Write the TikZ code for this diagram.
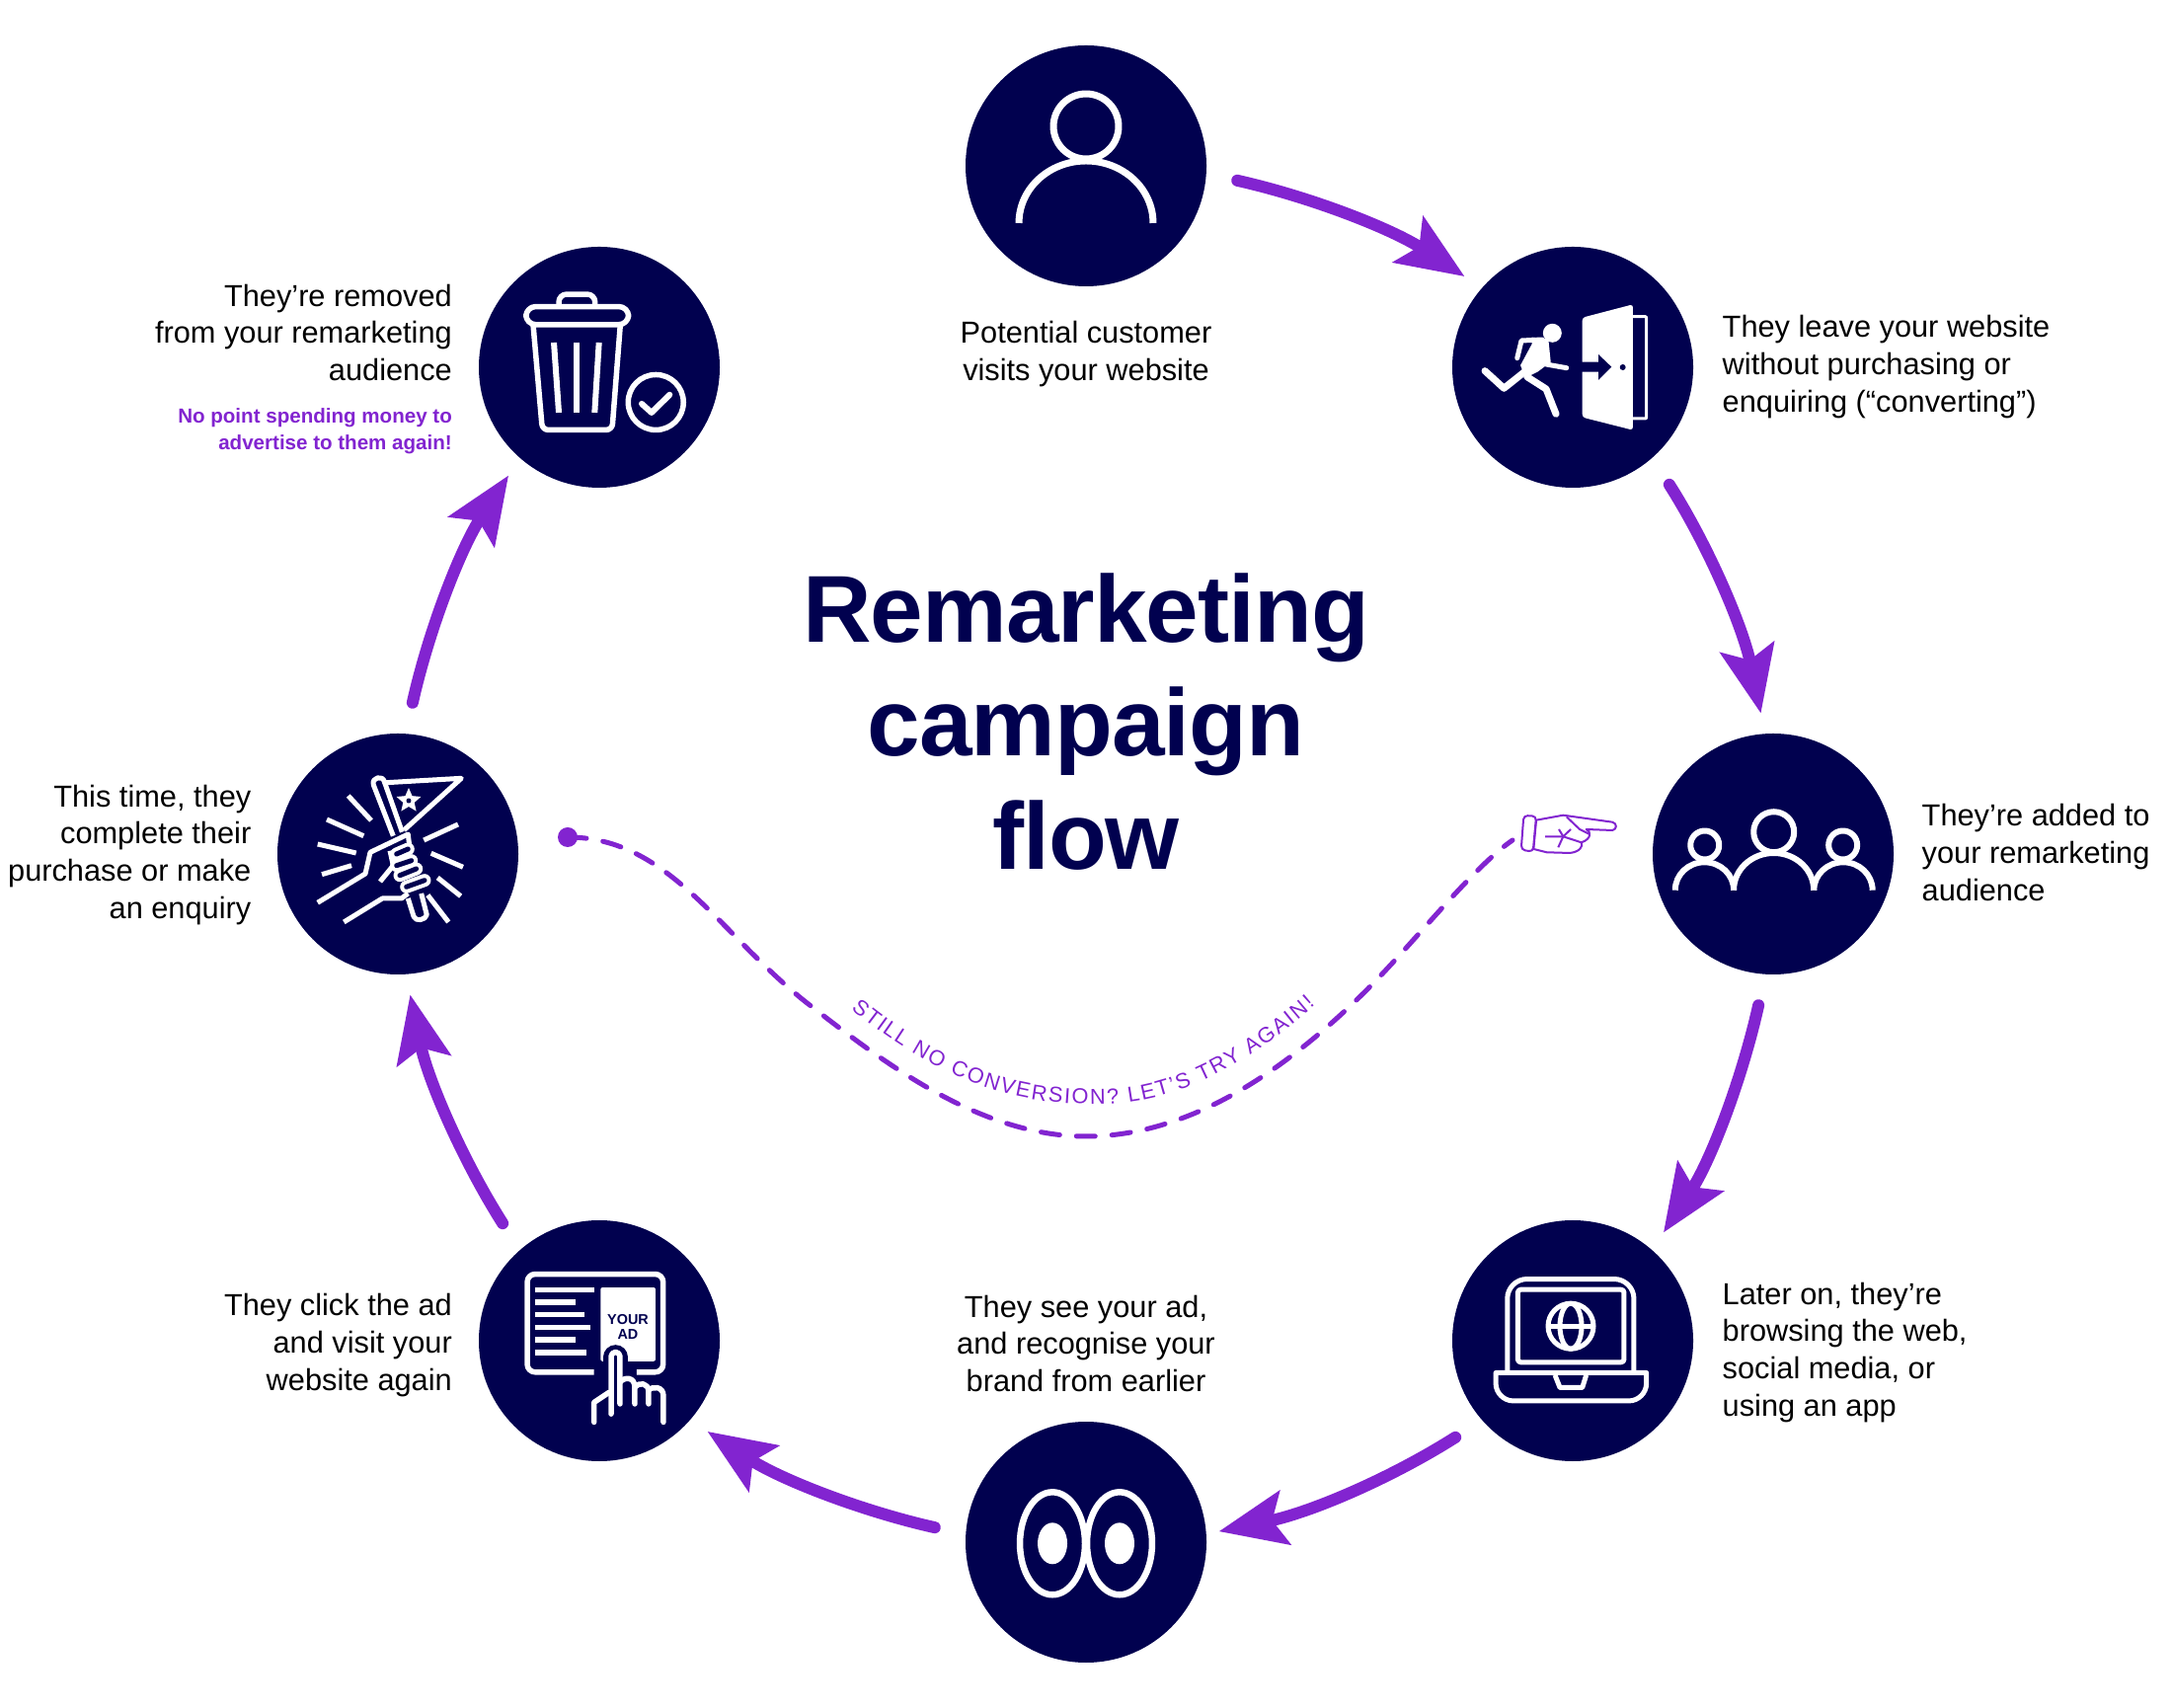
\documentclass[tikz,border=0pt]{standalone}
\usepackage{fontspec}
\setmainfont{Liberation Sans}
\newfontfamily\headfont[LetterSpace=-1]{Liberation Sans}
\usetikzlibrary{arrows.meta,decorations.text}
\definecolor{navy}{RGB}{1,1,79}
\definecolor{flowpurple}{RGB}{130,36,208}
\newcommand{\retryfont}{\fontsize{6.2}{7}\selectfont}
\tikzset{
    stage/.style={circle, fill=navy, minimum size=2.44cm, inner sep=0pt, outer sep=.21cm},
    lab/.style={font=\fontsize{8.75}{10.8}\selectfont, inner sep=0pt},
    note/.style={font=\fontsize{5.85}{7.7}\selectfont\bfseries, text=flowpurple, inner sep=0pt},
    head/.style={font=\fontsize{27.4}{32.7}\selectfont\bfseries\headfont, text=navy, align=center, inner sep=0pt},
    adlab/.style={font=\fontsize{4.1}{4.4}\selectfont\bfseries, text=navy, align=center, inner sep=0pt},
    flow/.style={draw=flowpurple, line width=.12cm, line cap=round, shorten <=.11cm, -{Stealth[length=.68cm,width=.55cm,inset=.13cm]}},
    retry/.style={draw=flowpurple, line width=.05cm, line cap=round, dash pattern=on .19cm off .17cm},
    icon/.style={draw=white, line width=.05cm, line join=round},
    outline/.style={draw=flowpurple, line width=.02cm, line join=round, fill=white}
}
\begin{document}
\begin{tikzpicture}[x=1cm,y=1cm]

\useasboundingbox (0,0) rectangle (22,17.29);

\node[stage] (visit) at (11,15.61) {};
\node[stage] (leave) at (15.93,13.57) {};
\node[stage] (added) at (17.96,8.64) {};
\node[stage] (browse) at (15.93,3.71) {};
\node[stage] (see) at (11,1.67) {};
\node[stage] (click) at (6.07,3.71) {};
\node[stage] (convert) at (4.03,8.64) {};
\node[stage] (removed) at (6.07,13.57) {};

\foreach \a/\b/\s [count=\i from 0] in {visit/leave/0cm,leave/added/0cm,added/browse/0cm,browse/see/-.08cm,see/click/0cm,click/convert/0cm,convert/removed/0cm} {
  \pgfmathsetmacro{\sa}{-5.6-45*\i}
  \pgfmathsetmacro{\ea}{140-45*\i}
  \pgfmathsetmacro{\oa}{-12.6-45*\i}
  \pgfmathsetmacro{\ia}{146.7-45*\i}
  \draw[flow,shorten >=\s] (\a.\sa) to[out=\oa,in=\ia,looseness=.86] (\b.\ea);
}

\node[lab,align=center] (visitlab) at (11,13.70) {Potential customer\\visits your website};
\node[lab,align=left,anchor=west] (leavelab) at (17.44,13.57) {They leave your website\\without purchasing or\\enquiring (“converting”)};
\node[lab,align=left,anchor=west] (addedlab) at (19.46,8.655) {They’re added to\\your remarketing\\audience};
\node[lab,align=left,anchor=west] (browselab) at (17.44,3.59) {Later on, they’re\\browsing the web,\\social media, or\\using an app};
\node[lab,align=center] (seelab) at (11,3.68) {They see your ad,\\and recognise your\\brand from earlier};
\node[lab,align=right,anchor=east] (clicklab) at (4.585,3.66) {They click the ad\\and visit your\\website again};
\node[lab,align=right,anchor=east] (convertlab) at (2.55,8.63) {This time, they\\complete their\\purchase or make\\an enquiry};
\node[lab,align=right,anchor=east] (removedlab) at (4.585,13.92) {They’re removed\\from your remarketing\\audience};
\node[note,align=right,anchor=east] (removednote) at (4.585,12.92) {No point spending money to\\advertise to them again!};

\node[head] (title) at (11,9.98) {Remarketing\\campaign\\flow};

\node[circle,fill=flowpurple,minimum size=.2cm,inner sep=0pt] (retrydot) at (5.75,8.81) {};
\coordinate (handend) at (15.32,8.78);
\draw[retry] (retrydot.center) .. controls (6.80,8.81) and (7.30,7.79) .. (8.24,7.08)
  .. controls (9.00,6.49) and (9.95,5.78) .. (11.00,5.78)
  .. controls (12.05,5.78) and (13.00,6.44) .. (13.79,7.21)
  .. controls (14.30,7.71) and (14.90,8.49) .. (handend);
\path[decorate,decoration={text along path,text align={fit to path},
  text={|\retryfont\color{flowpurple}|STILL NO CONVERSION? LET’S TRY AGAIN!}}]
  (8.62,7.07) .. controls (9.57,6.29) and (10.37,6.08) .. (11.22,6.11)
  .. controls (11.97,6.14) and (12.67,6.54) .. (13.32,7.11);

\coordinate (hand) at (15.88,8.84);
\begin{scope}[shift={(hand)},scale=.01]
  \draw[outline] (-32,14.3) -- (-4.7,19.3) -- (45.3,12.3) .. controls (50,11) and (50,5) .. (45.3,4) -- (18.7,5)
    .. controls (24,3) and (24,-5) .. (13.7,-8.3) .. controls (16,-12) and (12,-18) .. (2,-19) -- (-21.3,-18.3) -- (-34.7,-15) -- cycle;
  \draw[outline,rounded corners=.04cm] (-44.7,19) -- (-32,18.3) -- (-35.3,-17.7) -- (-47.3,-15.7) -- cycle;
  \draw[outline] (-1.3,17.7) -- (12,5) -- (22,0);
  \draw[outline] (-23,-2.3) -- (-4.7,-2.3) -- (13.7,-8.3);
  \draw[outline] (-9,5) -- (-4.7,-2.3) -- (3,5);
  \draw[outline] (-9.7,-13.3) -- (-4.7,-2.3);
\end{scope}

\begin{scope}[shift={(visit)},scale=.01]
  \draw[icon,line width=.07cm] (0,40) circle (33);
  \draw[icon,line width=.07cm] (-68,-58) arc[start angle=180,end angle=0,x radius=68,y radius=63];
\end{scope}

\begin{scope}[shift={(leave)},scale=.01]
  \fill[white,rounded corners=.03cm] (9.7,50.3) -- (61,63.7) -- (61,-63.7) -- (9.7,-50.7) -- cycle;
  \draw[icon,line width=.03cm,rounded corners=.01cm] (61,51.3) -- (74.7,51.3) -- (74.7,-52) -- (61,-52);
  \fill[navy] (9,5.3) -- (26,5.3) -- (26,13) -- (39.3,0.3) -- (26,-13) -- (26,-4.7) -- (9,-4.7) -- cycle;
  \fill[navy] (50.7,0) circle (3);
  \fill[white] (-20.7,34.7) circle (9.5);
  \fill[white] (-41.3,30.3) -- (-24.7,28.7) -- (-22.3,5.3) -- (-35.7,-4.7) -- (-48,-10.7) -- (-53,2) -- (-41.3,23.7) -- cycle;
  \draw[icon,line cap=round] (-56.3,9.3) -- (-52,27) -- (-31,28);
  \draw[icon,line width=.07cm,line cap=round] (-89,-3.7) -- (-69.7,-21.3) -- (-48,-4);
  \draw[icon,line width=.07cm,line cap=round] (-46.3,-9.7) -- (-27,-22) -- (-17,-47.3);
  \draw[icon,line cap=round] (-27,3) -- (-6.3,-0.7);
\end{scope}

\begin{scope}[shift={(added)},scale=.01]
  \draw[icon,line width=.06cm] (0.7,22.3) circle (20.5);
  \draw[icon,line width=.06cm] (-69.3,9) circle (14.5);
  \draw[icon,line width=.06cm] (70.7,9) circle (14.5);
  \draw[icon,line width=.06cm] (-40,-36.7) arc[start angle=180,end angle=0,x radius=40.6,y radius=37.7];
  \draw[icon,line width=.06cm] (-99.3,-36.7) arc[start angle=180,end angle=0,x radius=29.7,y radius=28.4];
  \draw[icon,line width=.06cm] (41.3,-36.7) arc[start angle=180,end angle=0,x radius=29.7,y radius=28.4];
\end{scope}

\begin{scope}[shift={(browse)},scale=.01]
  \draw[icon,rounded corners=.2cm] (-66.3,-30.8) -- (-66.3,62.5) -- (62,62.5) -- (62,-30.8);
  \draw[icon,rounded corners=.03cm] (-55.7,51.8) rectangle (52,-21.8);
  \draw[icon] (-78,-32.5) -- (74.7,-32.5) -- (74.7,-43) arc[start angle=0,end angle=-90,radius=18] -- (-60,-61) arc[start angle=270,end angle=180,radius=18] -- cycle;
  \draw[icon] (-18,-34.8) -- (-13,-47.5) -- (9.7,-47.5) -- (13.7,-34.8);
  \draw[icon] (-2,14.8) circle (23);
  \draw[icon] (-2,14.8) ellipse (11 and 23);
  \draw[icon] (-25,14.8) -- (21,14.8);
\end{scope}

\begin{scope}[shift={(see)},scale=.01]
  \draw[icon,line width=.065cm] (-34,-1.3) ellipse (33 and 52);
  \draw[icon,line width=.065cm] (34,-1.3) ellipse (33 and 52);
  \fill[white] (-34,-1.3) ellipse (15 and 21);
  \fill[white] (34,-1.3) ellipse (15 and 21);
\end{scope}

\begin{scope}[shift={(click)},scale=.01]
  \draw[icon,line width=.055cm,rounded corners=.08cm] (-5.3,-31.8) -- (-73,-31.8) -- (-73,67.5) -- (64.7,67.5) -- (64.7,-31.8) -- (38,-31.8);
  \foreach \ly/\lx in {51.5/-5.3,38.8/-23.7,26.5/-15,13.5/-9.3,0.8/-23.7,-11.8/-12.7}
    \draw[icon,line width=.055cm] (-65.3,\ly) -- (\lx,\ly);
  \fill[white,rounded corners=.02cm] (1.3,54) rectangle (57,-20.8);
  \node[adlab] (adtext) at (29,14) {YOUR\\AD};
  \draw[navy,line width=.25cm,line cap=round] (16.5,-30) -- (16.5,-16.7);
  \draw[icon,line width=.055cm,line cap=round] (12,-74.2) -- (12,-16) arc[start angle=180,end angle=0,radius=4.5] -- (21,-64);
  \draw[icon,line width=.055cm,line cap=round] (21,-42) .. controls (26,-36) and (36,-37) .. (36,-47) -- (36,-64);
  \draw[icon,line width=.055cm,line cap=round] (36,-47) .. controls (40,-42) and (50,-42) .. (50,-52) -- (50,-64);
  \draw[icon,line width=.055cm,line cap=round] (50,-50) .. controls (54,-46) and (65,-46) .. (65,-56) -- (65,-82.5);
  \draw[icon,line width=.055cm,line cap=round] (9.7,-52.5) -- (-5.3,-62.5) -- (-5.3,-82.5);
\end{scope}

\begin{scope}[shift={(convert)},scale=.01]
  \draw[icon] (-50.3,59) -- (-27,34);
  \draw[icon] (-72,35) -- (-34.7,18.3);
  \draw[icon] (-81.3,10) -- (-42.3,1);
  \draw[icon] (-77,-20.7) -- (-47,-11.7);
  \draw[icon] (26.3,14) -- (61,30);
  \draw[icon] (33.7,0.7) -- (66,-13.3);
  \draw[icon] (40.3,-24) -- (63.7,-42.7);
  \draw[icon] (30.3,-41.7) -- (51.3,-69);
  \draw[icon] (-4.7,18.3) -- (-24.7,70) .. controls (-27,78) and (-15,80) .. (-13.7,73.3) -- (-12.3,72.3) -- (64.3,76.7) -- (6.3,24.3);
  \draw[icon] (-13.7,73.3) -- (4.3,22.3);
  \draw[icon] (10.3,-45) -- (16,-63.3) .. controls (18,-69) and (28,-67) .. (29.3,-61.7) -- (23.7,-40);
  \begin{scope}[shift={(11,54)}]
    \fill[white] (90:13) -- (126:6) -- (162:13) -- (198:6) -- (234:13) -- (270:6) -- (306:13) -- (342:6) -- (18:13) -- (54:6) -- cycle;
    \fill[navy] (0,0) circle (2.5);
  \end{scope}
  \draw[icon] (-81.3,-49.3) -- (-33,-20) -- (-28,1.7) -- (10.3,20) -- (12,6);
  \draw[icon] (-8,3.3) -- (-4.7,-11.7) -- (-18,-28);
  \foreach \fa/\fb/\fc/\fd in {-1.3/0/10.3/5,-1.3/-11.7/13.7/-6.7,2/-21.7/18.7/-15,8.7/-33.3/27/-26.7} {
    \draw[white,line width=.13cm,line cap=round] (\fa,\fb) -- (\fc,\fd);
    \draw[navy,line width=.05cm,line cap=round] (\fa,\fb) -- (\fc,\fd);
  }
  \draw[icon] (-54.7,-69) -- (-15.7,-45) -- (3.7,-45) -- (10.3,-40);
\end{scope}

\begin{scope}[shift={(removed)},scale=.01]
  \draw[icon,line width=.055cm,rounded corners=.1cm] (-74.3,43.2) rectangle (29.7,61.5);
  \draw[icon,line width=.055cm,rounded corners=.08cm] (-41,61.5) -- (-41,74) -- (-4.3,74) -- (-4.3,61.5);
  \draw[icon,line width=.055cm,rounded corners=.06cm] (-67,43) -- (-57.7,-63.5) -- (13,-63.5) -- (21.3,43);
  \draw[icon,line width=.06cm] (-46,25) -- (-41,-46);
  \draw[icon,line width=.06cm] (-22.7,25) -- (-22.7,-46);
  \draw[icon,line width=.06cm] (-0.3,25) -- (-4.7,-46);
  \draw[icon,line width=.055cm] (57.3,-35.5) circle (28);
  \draw[icon,line width=.06cm,line cap=round] (43,-37) -- (53,-46) -- (71.3,-27.8);
\end{scope}

\end{tikzpicture}
\end{document}
